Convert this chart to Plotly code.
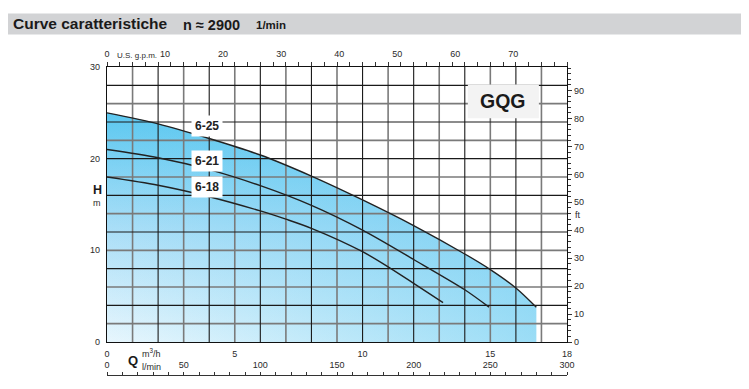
import plotly.graph_objects as go

# ---------------- data ----------------
Q_625 = [0, 2, 4, 6, 8, 10, 12, 14, 15, 16, 16.8]
H_625 = [25.0, 23.8, 22.2, 20.4, 18.1, 15.5, 12.7, 9.6, 7.9, 5.9, 3.8]

Q_621 = [0, 2, 4, 6, 8, 10, 12, 14, 14.95]
H_621 = [21.0, 20.1, 18.8, 17.05, 14.9, 12.2, 9.0, 5.7, 3.8]

Q_618 = [0, 2, 4, 6, 7, 8, 10, 11, 12, 13.15]
H_618 = [18.0, 17.1, 15.85, 14.3, 13.4, 12.4, 9.85, 8.2, 6.4, 4.3]

curve_names = ["6-25", "6-21", "6-18"]

q_ticks = [0, 5, 10, 15, 18]          # m3/h
h_ticks = [0, 10, 20, 30]             # m
gpm_ticks = [0, 10, 20, 30, 40, 50, 60, 70]
lmin_ticks = [0, 50, 100, 150, 200, 250, 300]
ft_ticks = [0, 10, 20, 30, 40, 50, 60, 70, 80, 90]

GPM_TO_M3H = 0.2271247
M_TO_FT = 1 / 0.3048

# ---------------- layout geometry ----------------
OFF = 8                      # page body margin
W, H = 749 - OFF, 389 - OFF
ML, MT = 107 - OFF, 67 - OFF
PW = 460
MR = W - ML - PW
MB = 4
PH = H - MT - MB


def px(x):
    """reference-screenshot x pixel -> paper coordinate"""
    return (x - OFF - ML) / PW


def py(y):
    """reference-screenshot y pixel -> paper coordinate"""
    return (H - MB - (y - OFF)) / PH


FONT = "Liberation Sans, Arial, Helvetica, sans-serif"
TXT = "#2a2a2a"

fig = go.Figure()

# gradient fill under the 6-25 curve (vertical + horizontal overlay)
fig.add_trace(go.Scatter(
    x=Q_625, y=H_625, mode="lines", fill="tozeroy", line=dict(width=0, shape="spline", smoothing=0.8),
    fillgradient=dict(type="vertical", start=0, stop=25,
                      colorscale=[[0, "#e7f6fd"], [0.5, "#a9def7"], [1, "#5cc8f0"]]),
    hoverinfo="skip", showlegend=False))
fig.add_trace(go.Scatter(
    x=Q_625, y=H_625, mode="lines", fill="tozeroy", line=dict(width=0, shape="spline", smoothing=0.8),
    fillgradient=dict(type="horizontal", start=0, stop=17,
                      colorscale=[[0, "rgba(92,200,240,0)"], [1, "rgba(92,200,240,0.55)"]]),
    hoverinfo="skip", showlegend=False))

# grid drawn above the fill
gx_dark = list(range(2, 18, 2))
gx_gray = list(range(1, 18, 2))
gy_dark = list(range(4, 30, 4))
gy_gray = list(range(2, 30, 4))


def grid_xy(xs, ys):
    gx, gy = [], []
    for v in xs:
        gx += [v, v, None]
        gy += [0, 30, None]
    for v in ys:
        gx += [0, 18, None]
        gy += [v, v, None]
    return gx, gy


gx, gy = grid_xy(gx_gray, gy_gray)
fig.add_trace(go.Scatter(x=gx, y=gy, mode="lines", line=dict(color="#7a7a7a", width=1.6),
                         hoverinfo="skip", showlegend=False))
gx, gy = grid_xy(gx_dark, gy_dark)
fig.add_trace(go.Scatter(x=gx, y=gy, mode="lines", line=dict(color="#1a1a1a", width=1.1),
                         hoverinfo="skip", showlegend=False))

# curves
for qs, hs in [(Q_625, H_625), (Q_621, H_621), (Q_618, H_618)]:
    fig.add_trace(go.Scatter(x=qs, y=hs, mode="lines",
                             line=dict(color="#222222", width=1.4, shape="spline", smoothing=0.8),
                             hoverinfo="skip", showlegend=False))

# dummy traces so the secondary axes render
fig.add_trace(go.Scatter(x=[None], y=[None], xaxis="x2", yaxis="y", showlegend=False, hoverinfo="skip"))
fig.add_trace(go.Scatter(x=[None], y=[None], xaxis="x3", yaxis="y", showlegend=False, hoverinfo="skip"))
fig.add_trace(go.Scatter(x=[None], y=[None], xaxis="x", yaxis="y2", showlegend=False, hoverinfo="skip"))

tickfont = dict(family=FONT, size=9, color=TXT)

fig.update_layout(
    width=W, height=H,
    margin=dict(l=ML, r=MR, t=MT, b=MB, autoexpand=False),
    paper_bgcolor="white", plot_bgcolor="white",
    showlegend=False,
    xaxis=dict(range=[0, 18], domain=[0, 1], showgrid=False, zeroline=False,
               showline=True, linecolor="#111", linewidth=1.3,
               tickmode="array", tickvals=q_ticks, ticktext=[str(v) for v in q_ticks],
               ticks="", tickfont=tickfont, ticklabelstandoff=3, fixedrange=True),
    yaxis=dict(range=[0, 30], domain=[py(342), 1], showgrid=False, zeroline=False,
               showline=True, linecolor="#111", linewidth=1.3,
               tickmode="array", tickvals=h_ticks, ticktext=[str(v) for v in h_ticks],
               ticks="", tickfont=tickfont, ticklabelstandoff=4, fixedrange=True),
    xaxis2=dict(range=[0, 18], overlaying="x", side="top", anchor="y", showgrid=False, zeroline=False,
                showline=True, linecolor="#111", linewidth=1.3,
                tickmode="array", tickvals=[g * GPM_TO_M3H for g in gpm_ticks],
                ticktext=[str(g) for g in gpm_ticks], ticks="", tickfont=tickfont,
                ticklabelstandoff=5,
                minor=dict(tickmode="linear", tick0=0, dtick=0.5, ticks="outside", ticklen=4,
                           tickcolor="#333", tickwidth=1),
                fixedrange=True),
    xaxis3=dict(range=[0, 300], overlaying="x", side="top", anchor="free", position=py(375),
                showgrid=False, zeroline=False, showline=True, linecolor="#333", linewidth=1,
                tickmode="array", tickvals=lmin_ticks, ticktext=[str(v) for v in lmin_ticks],
                ticks="outside", ticklen=3, tickcolor="#333", tickfont=tickfont,
                minor=dict(tickmode="linear", tick0=0, dtick=10, ticks="outside", ticklen=3,
                           tickcolor="#333"),
                fixedrange=True),
    yaxis2=dict(range=[0, 30 * M_TO_FT], overlaying="y", side="right", anchor="x",
                showgrid=False, zeroline=False, showline=True, linecolor="#111", linewidth=1.3,
                tickmode="array", tickvals=ft_ticks, ticktext=[str(v) for v in ft_ticks],
                ticks="outside", ticklen=4, tickcolor="#333", tickfont=tickfont,
                minor=dict(tickmode="linear", tick0=0, dtick=2, ticks="outside", ticklen=3,
                           tickcolor="#333"),
                fixedrange=True),
)

# title bar
fig.add_shape(type="rect", xref="paper", yref="paper", x0=px(8), x1=px(742), y0=py(34.5), y1=py(13.5),
              fillcolor="#d2d3d5", line=dict(width=0), layer="below")

# GQG box
fig.add_shape(type="rect", xref="x", yref="y", x0=14.12, x1=16.9, y0=24.4, y1=28.1,
              fillcolor="#f3f3f3", line=dict(width=0), layer="above")

ann = []


def add_text(x, y, text, size, bold=False, xanchor="left", color=TXT, xref="paper", yref="paper", bg=None,
             pad=0):
    t = f"<b>{text}</b>" if bold else text
    d = dict(x=x, y=y, xref=xref, yref=yref, text=t, showarrow=False, xanchor=xanchor, yanchor="middle",
             font=dict(family=FONT, size=size, color=color), borderpad=pad)
    if bg:
        d["bgcolor"] = bg
    ann.append(d)


# title
add_text(px(12), py(24), "Curve caratteristiche", 15.5, bold=True, color="#1a1a1a")
add_text(px(182), py(24.5), "n ≈ 2900", 14.5, bold=True, color="#1a1a1a")
add_text(px(255), py(24.5), "1/min", 11.5, bold=True, color="#1a1a1a")

# axis captions
add_text(px(116), py(55), "U.S. g.p.m.", 8)
add_text(px(97), py(190), "H", 12.5, bold=True, xanchor="center", color="#1a1a1a")
add_text(px(97), py(203), "m", 9, xanchor="center")
add_text(px(574), py(215), "ft", 9)
add_text(px(127), py(360), "Q", 13, bold=True, color="#1a1a1a")
add_text(px(141), py(353), "m<sup>3</sup>/h", 9)
add_text(px(141), py(367), "l/min", 9)

# curve labels
label_pos = [(3.9, 23.55), (3.9, 19.75), (3.9, 16.9)]
for name, (lx, ly) in zip(curve_names, label_pos):
    add_text(lx, ly, name, 12, bold=True, xanchor="center", xref="x", yref="y", bg="white",
             color="#222", pad=3)

# GQG
add_text(15.5, 26.25, "GQG", 19.5, bold=True, xanchor="center", xref="x", yref="y", color="#1a1a1a")

fig.update_layout(annotations=ann)

fig.write_html("out.html")
